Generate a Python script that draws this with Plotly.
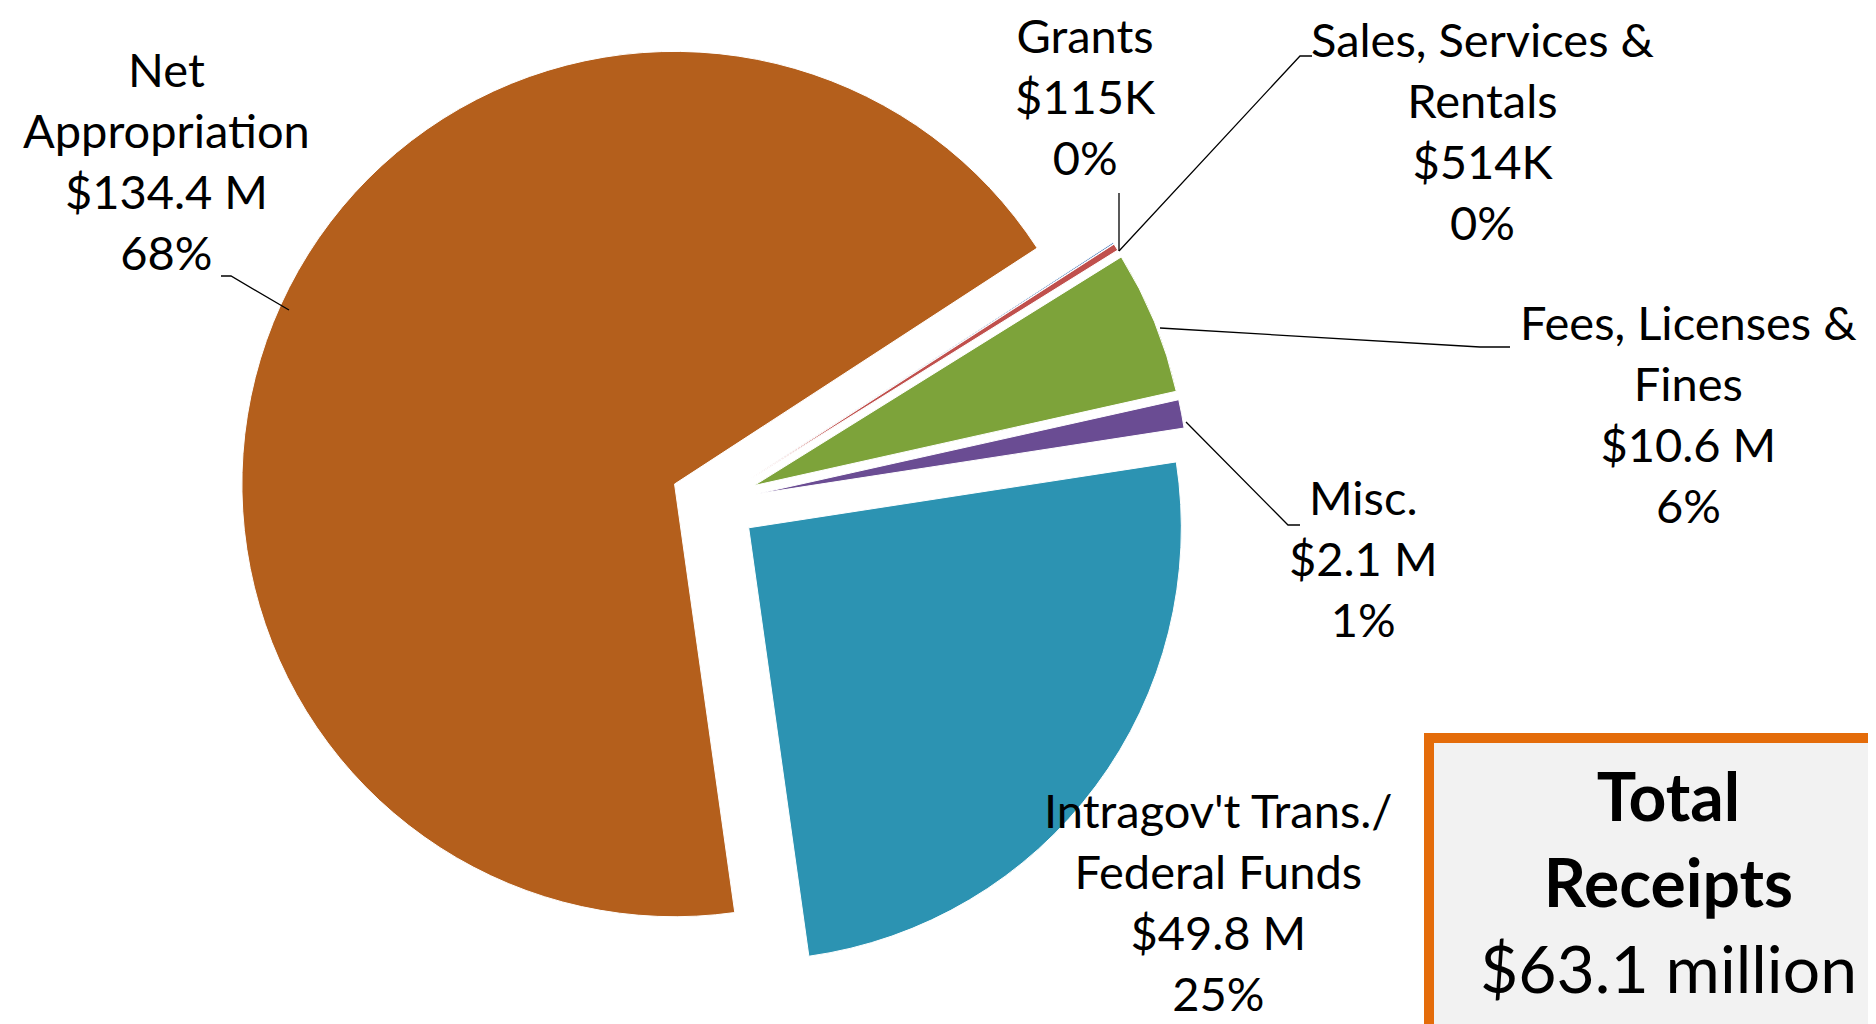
import plotly.graph_objects as go

W, H = 1876, 1024

categories = ["Net Appropriation", "Grants", "Sales, Services & Rentals",
              "Fees, Licenses & Fines", "Misc.", "Intragov't Trans./ Federal Funds"]
values_musd = [134.4, 0.115, 0.514, 10.6, 2.1, 49.8]
value_text = ["$134.4 M", "$115K", "$514K", "$10.6 M", "$2.1 M", "$49.8 M"]
pct_text = ["68%", "0%", "0%", "6%", "1%", "25%"]
label_lines = [["Net", "Appropriation"], ["Grants"], ["Sales, Services &", "Rentals"],
               ["Fees, Licenses &", "Fines"], ["Misc."], ["Intragov't Trans./", "Federal Funds"]]
colors = ["#B45F1C", "#4F81BD", "#C0504D", "#7DA33A", "#6A4C93", "#2C93B2"]

total_title = "Total Receipts"
total_value = "$63.1 million"

FONT = "Lato"

fig = go.Figure()
fig.add_trace(go.Pie(
    labels=categories, values=values_musd, sort=False, direction="clockwise",
    rotation=172, pull=[0.1] * len(values_musd),
    marker=dict(colors=colors, line=dict(color="white", width=1)),
    textinfo="none", hoverinfo="label+value", showlegend=False,
    domain=dict(x=[0.1226, 0.630], y=[0.0526, 0.9826]),
))

# label positions (pixels) for each category
label_pos = [(158, 152), (1077, 88), (1475, 122), (1680, 405), (1355, 550), (1210, 893)]
# leader lines (pixels)
leaders = [
    [(213, 268), (223, 268), (281, 302)],
    [(1111, 185), (1111, 243)],
    [(1304, 48), (1292, 48), (1111, 243)],
    [(1502, 339), (1472, 339), (1152, 320)],
    [(1292, 517), (1280, 517), (1178, 414)],
]

def px(x, y):
    return x / W, 1 - y / H

annotations = []
for i, cat in enumerate(categories):
    text = "<br>".join(label_lines[i] + [value_text[i], pct_text[i]])
    x, y = px(*label_pos[i])
    annotations.append(dict(text=text, x=x, y=y, xref="paper", yref="paper",
                            showarrow=False, xanchor="center", yanchor="middle",
                            align="center", borderpad=0,
                            font=dict(family=FONT, size=47, color="black")))

shapes = []
for pts in leaders:
    path = ""
    for j, (a, b) in enumerate(pts):
        xx, yy = px(a, b)
        path += ("M" if j == 0 else "L") + f"{xx},{yy} "
    shapes.append(dict(type="path", path=path.strip(), xref="paper", yref="paper",
                       line=dict(color="black", width=1.3)))

# total box
bx0, by0 = px(1421, 730)
bx1, by1 = px(1890, 1040)
shapes.append(dict(type="rect", x0=bx0, y0=by0, x1=bx1, y1=by1, xref="paper", yref="paper",
                   fillcolor="#F2F2F2", line=dict(color="#E46C0A", width=10), layer="below"))
tw = total_title.split(" ")
tx, ty = px(1660, 873)
annotations.append(dict(text=f"<b>{tw[0]}</b><br><b>{tw[1]}</b><br>{total_value}",
                        x=tx, y=ty, xref="paper", yref="paper", showarrow=False,
                        xanchor="center", yanchor="middle", align="center",
                        font=dict(family=FONT, size=66, color="black")))

fig.update_layout(width=W, height=H, margin=dict(l=0, r=0, t=0, b=0),
                  paper_bgcolor="white", plot_bgcolor="white",
                  annotations=annotations, shapes=shapes)
fig.write_html("out.html")
